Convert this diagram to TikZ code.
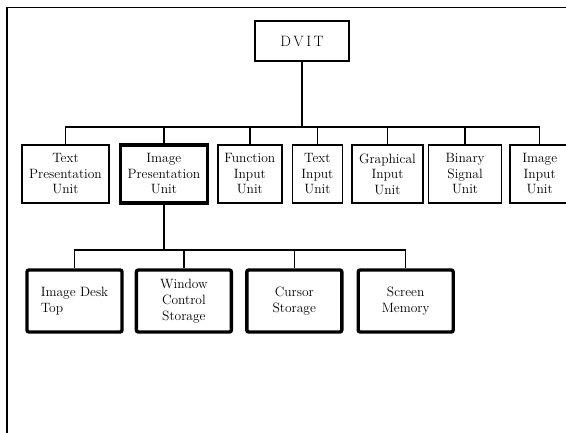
\documentclass[tikz,border=0pt]{standalone}
\usepackage{tikz}
\usetikzlibrary{positioning}

\begin{document}
\begin{tikzpicture}[x=1pt, y=-1pt, node distance=8pt,
    unit/.style={draw, line width=1.6pt, inner sep=0pt, align=center,
      minimum height=58pt, font=\fontsize{13.5}{15.5}\selectfont},
    mainunit/.style={unit, line width=3.2pt},
    store/.style={draw, line width=3.4pt, rounded corners=2pt, inner sep=0pt,
      minimum width=95pt, minimum height=62pt, font=\fontsize{13.5}{16}\selectfont},
    link/.style={line width=1.4pt}]
    \useasboundingbox (0,0) rectangle (566,433);
    % frame
    \draw[line width=1.5pt] (7,433) -- (7,7.5) -- (566,7.5);

    \node[unit, minimum width=94pt, minimum height=40pt,
          font=\fontsize{15}{18}\selectfont] (dvit) at (302,41) {D\,V\,I\,T};

    \node[unit, minimum width=87pt] (tpu) at (65.5,174) {Text\\Presentation\\Unit};
    \node[mainunit, minimum width=87pt, right=9pt of tpu] (ipu) {Image\\Presentation\\Unit};
    \node[unit, minimum width=64pt, right=8pt of ipu] (fiu) {Function\\Input\\Unit};
    \node[unit, minimum width=50pt, right=9pt of fiu] (tiu) {Text\\Input\\Unit};
    \node[unit, minimum width=71pt, right=8pt of tiu] (giu) {Graphical\\Input\\Unit};
    \node[unit, minimum width=73pt, right=4pt of giu] (bsu) {Binary\\Signal\\Unit};
    \node[unit, minimum width=59pt, right=7pt of bsu] (iiu) {Image\\Input\\Unit};

    \node[store, align=left] (desk) at (74.5,301) {Image Desk\\Top};
    \node[store, align=center, right=11pt of desk] (wcs) {Window\\Control\\Storage};
    \node[store, align=center, right=12pt of wcs] (curs) {Cursor\\Storage};
    \node[store, align=center, right=13pt of curs] (scrn) {Screen\\Memory};

    \coordinate (bus) at (0,127);
    \coordinate (bus2) at (0,250);
    \foreach \t in {tpu, ipu, fiu, tiu, giu, bsu, iiu}
      \draw[link] (dvit.south) -- (dvit.south |- bus) -| (\t.north);
    \foreach \t in {desk, wcs, curs, scrn}
      \draw[link] (ipu.south) -- (ipu.south |- bus2) -| (\t.north);
\end{tikzpicture}
\end{document}
